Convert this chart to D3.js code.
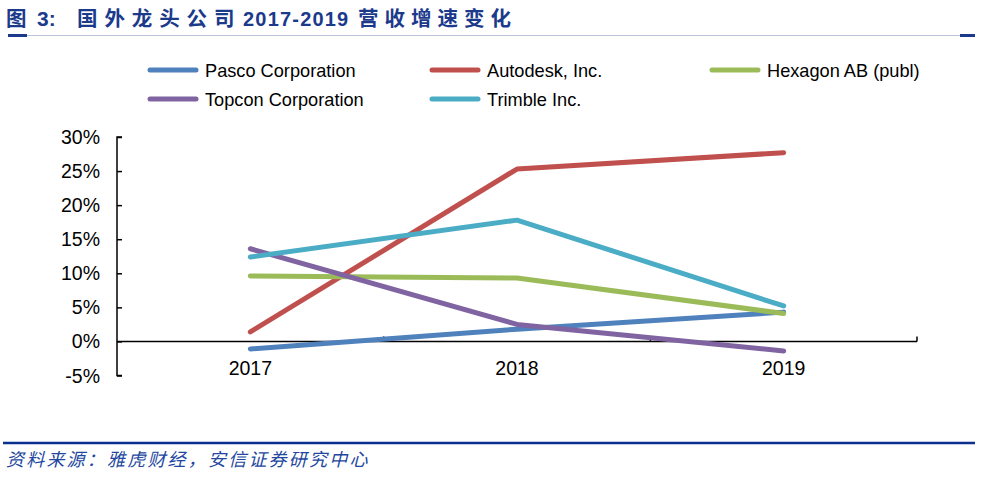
<!DOCTYPE html>
<html><head><meta charset="utf-8">
<script src="https://cdn.jsdelivr.net/npm/d3@7/dist/d3.min.js"></script>
<style>
html,body{margin:0;padding:0;background:#fff;}
svg{display:block;}
</style></head>
<body>
<svg id="c" width="983" height="478"></svg>
<script>
const years = ["2017", "2018", "2019"];
const legendLabels = ["Pasco Corporation", "Autodesk, Inc.", "Hexagon AB (publ)", "Topcon Corporation", "Trimble Inc."];
const pasco = [-1.1, 1.8, 4.3];
const autodesk = [1.4, 25.3, 27.7];
const hexagon = [9.6, 9.3, 4.1];
const topcon = [13.6, 2.5, -1.4];
const trimble = [12.4, 17.8, 5.2];
const yTicks = [-5, 0, 5, 10, 15, 20, 25, 30];
const colors = ["#4F81BD", "#C0504D", "#9BBB59", "#8064A2", "#4BACC6"];
const titleParts = ["图", "3:", "国外龙头公司", "2017-2019", "营收增速变化"];
const sourceText = "资料来源：雅虎财经，安信证券研究中心";

const allSeries = [pasco, autodesk, hexagon, topcon, trimble];
const svg = d3.select("#c");
const cjk = "'Noto Sans CJK SC', sans-serif";
const latin = "'Liberation Sans', Arial, sans-serif";

// Title (separate pieces)
const titleSpec = [
  {t: titleParts[0], x: 6, f: cjk, s: 20.5, ls: 0},
  {t: titleParts[1], x: 37, f: latin, s: 21, ls: 0},
  {t: titleParts[2], x: 77, f: cjk, s: 20.5, ls: 6.9},
  {t: titleParts[3], x: 243, f: latin, s: 20, ls: 1.2},
  {t: titleParts[4], x: 358, f: cjk, s: 20.5, ls: 6.0}
];
svg.append("g").selectAll("text").data(titleSpec).join("text")
  .attr("x", d => d.x).attr("y", 26)
  .attr("fill", "#1c3a8c").attr("font-weight", "bold")
  .attr("font-family", d => d.f).attr("font-size", d => d.s)
  .style("letter-spacing", d => d.ls + "px")
  .text(d => d.t);

// title underline
svg.append("line").attr("x1", 8).attr("x2", 975).attr("y1", 35.5).attr("y2", 35.5)
  .attr("stroke", "#b8c4dc").attr("stroke-width", 1);
svg.append("line").attr("x1", 8).attr("x2", 27).attr("y1", 35.5).attr("y2", 35.5)
  .attr("stroke", "#1c3a8c").attr("stroke-width", 3);
svg.append("line").attr("x1", 960).attr("x2", 975).attr("y1", 35.5).attr("y2", 35.5)
  .attr("stroke", "#1c3a8c").attr("stroke-width", 3);

// Source
svg.append("line").attr("x1", 3).attr("x2", 975).attr("y1", 443).attr("y2", 443)
  .attr("stroke", "#0a2f8f").attr("stroke-width", 2.5);
svg.append("text").attr("x", 6).attr("y", 466)
  .attr("fill", "#2347a0").attr("font-size", 18).attr("font-style", "italic")
  .attr("font-family", cjk)
  .style("letter-spacing", "2.2px")
  .text(sourceText);

// Scales
const x = d3.scaleBand().domain(years).range([117, 917]).padding(0);
const y = d3.scaleLinear().domain([-5, 30]).range([375.5, 137]);

// Y axis
const yAxis = d3.axisRight(y).tickValues(yTicks).tickSize(5).tickFormat(d => "");
const gy = svg.append("g").attr("transform", "translate(117,0)").call(yAxis);
gy.selectAll("path,line").attr("stroke", "#000").attr("stroke-width", 1.5);
gy.select(".domain").attr("d", `M5,${y(30)}H0V${y(-5)}H5`);
svg.append("g").selectAll("text").data(yTicks).join("text")
  .attr("x", 100).attr("y", d => y(d)).attr("dy", "0.36em")
  .attr("text-anchor", "end").attr("font-size", 19.5)
  .attr("font-family", latin).attr("fill", "#000")
  .text(d => d + "%");

// X axis
const bounds = years.map(d => x(d)).concat([x(years[years.length - 1]) + x.bandwidth()]);
svg.append("line").attr("x1", 117).attr("x2", 917).attr("y1", y(0)).attr("y2", y(0))
  .attr("stroke", "#000").attr("stroke-width", 1.5);
svg.append("g").selectAll("line").data(bounds.slice(1)).join("line")
  .attr("x1", d => d).attr("x2", d => d).attr("y1", y(0)).attr("y2", y(0) - 5)
  .attr("stroke", "#000").attr("stroke-width", 1.5);
svg.append("g").selectAll("text").data(years).join("text")
  .attr("x", d => x(d) + x.bandwidth() / 2).attr("y", 375)
  .attr("text-anchor", "middle").attr("font-size", 19.5)
  .attr("font-family", latin).attr("fill", "#000")
  .text(d => d);

// Lines
const line = d3.line().x((d, i) => x(years[i]) + x.bandwidth() / 2).y(d => y(d));
svg.append("g").selectAll("path").data(allSeries).join("path")
  .attr("d", d => line(d)).attr("fill", "none")
  .attr("stroke", (d, i) => colors[i]).attr("stroke-width", 5)
  .attr("stroke-linecap", "round").attr("stroke-linejoin", "round");

// Legend
const legX = [150, 432, 712];
const legY = [70, 99];
const lg = svg.append("g").selectAll("g").data(legendLabels).join("g")
  .attr("transform", (d, i) => `translate(${legX[i % 3]},${legY[Math.floor(i / 3)]})`);
lg.append("line").attr("x1", 0).attr("x2", 46).attr("y1", 0).attr("y2", 0)
  .attr("stroke", (d, i) => colors[i]).attr("stroke-width", 5).attr("stroke-linecap", "round");
lg.append("text").attr("x", 55).attr("y", 0).attr("dy", "0.36em")
  .attr("font-size", 18.2).attr("font-family", latin).attr("fill", "#000")
  .text(d => d);
</script>
</body></html>
